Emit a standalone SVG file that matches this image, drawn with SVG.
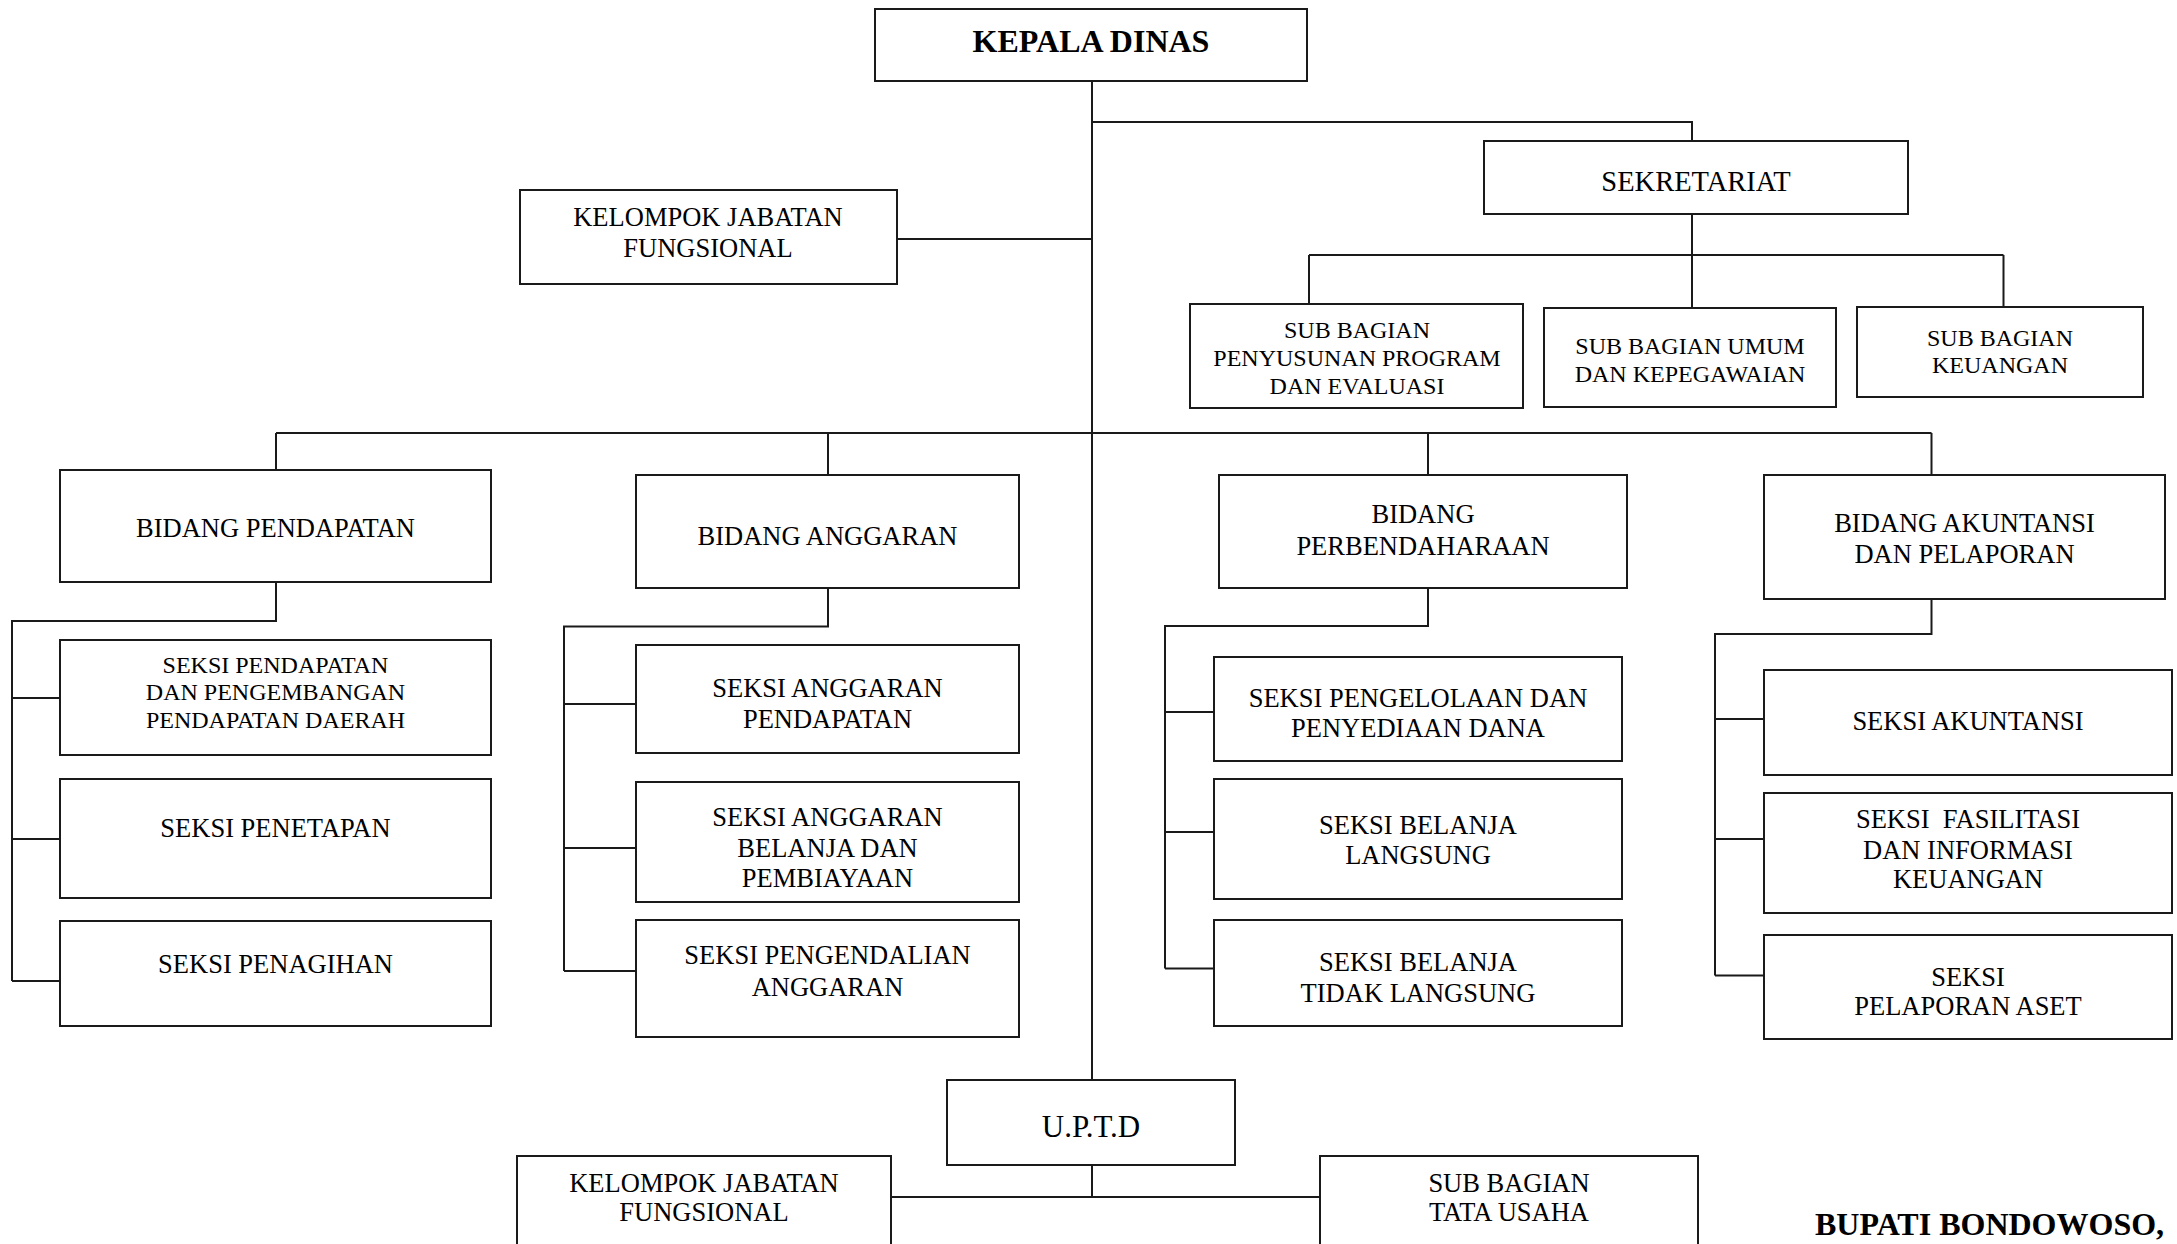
<svg xmlns="http://www.w3.org/2000/svg" width="2177" height="1244" viewBox="0 0 2177 1244">
  <style>
    .box { fill: #ffffff; stroke: #1a1a1a; stroke-width: 2; }
    .t { font-family: "Liberation Serif", "Times New Roman", serif; font-size: 26.5px; text-anchor: middle; fill: #000000; }
    .sm { font-size: 24px; }
    .b { font-weight: bold; font-size: 32px; }
    .link { fill: none; stroke: #1a1a1a; stroke-width: 2; }
  </style>
  <rect width="2177" height="1244" fill="#ffffff"/>

  <!-- connectors -->
  <g id="connectors" class="link">
    <path d="M1092 81 V1080"/>
    <path d="M1092 122 H1692 V141"/>
    <path d="M897 239 H1092"/>
    <path d="M1692 214 V255 M1309 255 H2003.5 M1309 255 V304 M1692 255 V308 M2003.5 255 V307"/>
    <path d="M276 433 H1931.5 M276 433 V470 M828 433 V475 M1428 433 V475 M1931.5 433 V475"/>
    <path d="M276 582 V621 H12 V981 M12 698 H60 M12 839 H60 M12 981 H60"/>
    <path d="M828 588 V626.5 H564 V971 M564 704 H636 M564 848 H636 M564 971 H636"/>
    <path d="M1428 588 V626 H1165 V968.5 M1165 712 H1214 M1165 832 H1214 M1165 968.5 H1214"/>
    <path d="M1931.5 599 V634 H1715 V975.5 M1715 719 H1764 M1715 839 H1764 M1715 975.5 H1764"/>
    <path d="M1092 1165 V1197 M891 1197 H1320"/>
  </g>

  <g id="kepala-dinas">
    <rect class="box" x="875" y="9" width="432" height="72"/>
    <text class="t b" x="1091" y="52">KEPALA DINAS</text>
  </g>

  <g id="kelompok-jabatan-fungsional">
    <rect class="box" x="520" y="190" width="377" height="94"/>
    <text class="t"><tspan x="708" y="226">KELOMPOK JABATAN</tspan><tspan x="708" y="257">FUNGSIONAL</tspan></text>
  </g>

  <g id="sekretariat">
    <rect class="box" x="1484" y="141" width="424" height="73"/>
    <text class="t" x="1696" y="191" style="font-size:28.5px">SEKRETARIAT</text>
  </g>

  <g id="subbag-program">
    <rect class="box" x="1190" y="304" width="333" height="104"/>
    <text class="t sm"><tspan x="1357" y="338">SUB BAGIAN</tspan><tspan x="1357" y="366">PENYUSUNAN PROGRAM</tspan><tspan x="1357" y="394">DAN EVALUASI</tspan></text>
  </g>

  <g id="subbag-umum">
    <rect class="box" x="1544" y="308" width="292" height="99"/>
    <text class="t sm"><tspan x="1690" y="354">SUB BAGIAN UMUM</tspan><tspan x="1690" y="382">DAN KEPEGAWAIAN</tspan></text>
  </g>

  <g id="subbag-keuangan">
    <rect class="box" x="1857" y="307" width="286" height="90"/>
    <text class="t sm"><tspan x="2000" y="346">SUB BAGIAN</tspan><tspan x="2000" y="373">KEUANGAN</tspan></text>
  </g>

  <!-- Bidang Pendapatan -->
  <g id="bidang-pendapatan">
    <rect class="box" x="60" y="470" width="431" height="112"/>
    <text class="t" x="275.5" y="537">BIDANG PENDAPATAN</text>
  </g>
  <g id="seksi-pengembangan-pendapatan">
    <rect class="box" x="60" y="640" width="431" height="115"/>
    <text class="t sm"><tspan x="275.5" y="673">SEKSI PENDAPATAN</tspan><tspan x="275.5" y="700">DAN PENGEMBANGAN</tspan><tspan x="275.5" y="728">PENDAPATAN DAERAH</tspan></text>
  </g>
  <g id="seksi-penetapan">
    <rect class="box" x="60" y="779" width="431" height="119"/>
    <text class="t" x="275.5" y="837">SEKSI PENETAPAN</text>
  </g>
  <g id="seksi-penagihan">
    <rect class="box" x="60" y="921" width="431" height="105"/>
    <text class="t" x="275.5" y="973">SEKSI PENAGIHAN</text>
  </g>

  <!-- Bidang Anggaran -->
  <g id="bidang-anggaran">
    <rect class="box" x="636" y="475" width="383" height="113"/>
    <text class="t" x="827.5" y="545">BIDANG ANGGARAN</text>
  </g>
  <g id="seksi-anggaran-pendapatan">
    <rect class="box" x="636" y="645" width="383" height="108"/>
    <text class="t"><tspan x="827.5" y="697">SEKSI ANGGARAN</tspan><tspan x="827.5" y="728">PENDAPATAN</tspan></text>
  </g>
  <g id="seksi-anggaran-belanja">
    <rect class="box" x="636" y="782" width="383" height="120"/>
    <text class="t"><tspan x="827.5" y="826">SEKSI ANGGARAN</tspan><tspan x="827.5" y="857">BELANJA DAN</tspan><tspan x="827.5" y="887">PEMBIAYAAN</tspan></text>
  </g>
  <g id="seksi-pengendalian-anggaran">
    <rect class="box" x="636" y="920" width="383" height="117"/>
    <text class="t"><tspan x="827.5" y="964">SEKSI PENGENDALIAN</tspan><tspan x="827.5" y="996">ANGGARAN</tspan></text>
  </g>

  <!-- Bidang Perbendaharaan -->
  <g id="bidang-perbendaharaan">
    <rect class="box" x="1219" y="475" width="408" height="113"/>
    <text class="t"><tspan x="1423" y="523">BIDANG</tspan><tspan x="1423" y="555">PERBENDAHARAAN</tspan></text>
  </g>
  <g id="seksi-pengelolaan-dana">
    <rect class="box" x="1214" y="657" width="408" height="104"/>
    <text class="t"><tspan x="1418" y="707">SEKSI PENGELOLAAN DAN</tspan><tspan x="1418" y="737">PENYEDIAAN DANA</tspan></text>
  </g>
  <g id="seksi-belanja-langsung">
    <rect class="box" x="1214" y="779" width="408" height="120"/>
    <text class="t"><tspan x="1418" y="834">SEKSI BELANJA</tspan><tspan x="1418" y="864">LANGSUNG</tspan></text>
  </g>
  <g id="seksi-belanja-tidak-langsung">
    <rect class="box" x="1214" y="920" width="408" height="106"/>
    <text class="t"><tspan x="1418" y="971">SEKSI BELANJA</tspan><tspan x="1418" y="1002">TIDAK LANGSUNG</tspan></text>
  </g>

  <!-- Bidang Akuntansi dan Pelaporan -->
  <g id="bidang-akuntansi">
    <rect class="box" x="1764" y="475" width="401" height="124"/>
    <text class="t"><tspan x="1964.5" y="532">BIDANG AKUNTANSI</tspan><tspan x="1964.5" y="563">DAN PELAPORAN</tspan></text>
  </g>
  <g id="seksi-akuntansi">
    <rect class="box" x="1764" y="670" width="408" height="105"/>
    <text class="t" x="1968" y="730">SEKSI AKUNTANSI</text>
  </g>
  <g id="seksi-fasilitasi">
    <rect class="box" x="1764" y="793" width="408" height="120"/>
    <text class="t" xml:space="preserve"><tspan x="1968" y="828">SEKSI  FASILITASI</tspan><tspan x="1968" y="859">DAN INFORMASI</tspan><tspan x="1968" y="888">KEUANGAN</tspan></text>
  </g>
  <g id="seksi-pelaporan-aset">
    <rect class="box" x="1764" y="935" width="408" height="104"/>
    <text class="t"><tspan x="1968" y="986">SEKSI</tspan><tspan x="1968" y="1015">PELAPORAN ASET</tspan></text>
  </g>

  <!-- U.P.T.D -->
  <g id="uptd">
    <rect class="box" x="947" y="1080" width="288" height="85"/>
    <text class="t" x="1091" y="1137" style="font-size:31px">U.P.T.D</text>
  </g>
  <g id="uptd-kelompok-jabatan-fungsional">
    <rect class="box" x="517" y="1156" width="374" height="120"/>
    <text class="t"><tspan x="704" y="1192">KELOMPOK JABATAN</tspan><tspan x="704" y="1221">FUNGSIONAL</tspan></text>
  </g>
  <g id="uptd-subbag-tata-usaha">
    <rect class="box" x="1320" y="1156" width="378" height="120"/>
    <text class="t"><tspan x="1509" y="1192">SUB BAGIAN</tspan><tspan x="1509" y="1221">TATA USAHA</tspan></text>
  </g>

  <text class="t b" x="1815" y="1235" style="text-anchor:start">BUPATI BONDOWOSO,</text>
</svg>
